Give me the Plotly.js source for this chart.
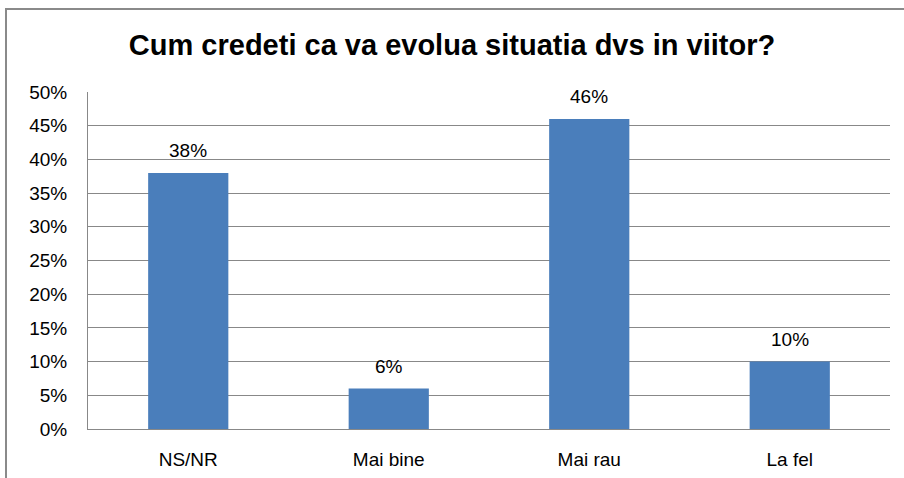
<!DOCTYPE html>
<html>
<head>
<meta charset="utf-8">
<script src="https://cdn.plot.ly/plotly-3.0.1.min.js"></script>
<style>
html,body{margin:0;padding:0;background:#fff;overflow:hidden;}
#wrap{position:relative;width:904px;height:478px;}
#chart{width:904px;height:478px;}
#frame{position:absolute;left:5px;top:8px;width:1000px;height:1000px;border:2px solid #8a8a8a;pointer-events:none;box-sizing:border-box;}
</style>
</head>
<body>
<div id="wrap"><div id="chart"></div><div id="frame"></div></div>
<script>
var categories = ["NS/NR", "Mai bine", "Mai rau", "La fel"];
var values = [0.38, 0.06, 0.46, 0.10];
var labels = ["38%", "6%", "46%", "10%"];
var tickVals = [0, 0.05, 0.10, 0.15, 0.20, 0.25, 0.30, 0.35, 0.40, 0.45, 0.50];
var tickText = ["0%", "5%", "10%", "15%", "20%", "25%", "30%", "35%", "40%", "45%", "50%"];

var font = "Liberation Sans, Arial, sans-serif";

var trace = {
  type: "bar",
  x: categories,
  y: values,
  marker: {color: "#4A7EBB"},
  hoverinfo: "none"
};

var annotations = categories.map(function(c, i){
  return {x: c, y: values[i], text: labels[i], showarrow: false, xref: "x", yref: "y",
    yanchor: "bottom", yshift: 10, font: {family: font, size: 19, color: "#000"}};
});

var layout = {
  width: 904, height: 478,
  margin: {l: 88, r: 14, t: 92, b: 49},
  paper_bgcolor: "#fff", plot_bgcolor: "#fff",
  bargap: 0.6,
  showlegend: false,
  title: {text: "<b>Cum credeti ca va evolua situatia dvs in viitor?</b>",
    font: {family: font, size: 29, color: "#000"}, x: 0.5, xanchor: "center", y: 0.906, yanchor: "middle"},
  xaxis: {type: "category", showgrid: false, showline: true, linecolor: "#888", linewidth: 1,
    ticks: "outside", ticklen: 13, tickcolor: "rgba(0,0,0,0)",
    tickfont: {family: font, size: 19, color: "#000"}, fixedrange: true},
  yaxis: {range: [0, 0.5], tickvals: tickVals, ticktext: tickText, showgrid: true, gridcolor: "#888",
    gridwidth: 1, showline: true, linecolor: "#888", linewidth: 1, zeroline: false,
    ticks: "outside", ticklen: 16, tickcolor: "rgba(0,0,0,0)",
    tickfont: {family: font, size: 19, color: "#000"}, fixedrange: true},
  annotations: annotations
};

Plotly.newPlot("chart", [trace], layout, {displayModeBar: false, staticPlot: true});
</script>
</body>
</html>
